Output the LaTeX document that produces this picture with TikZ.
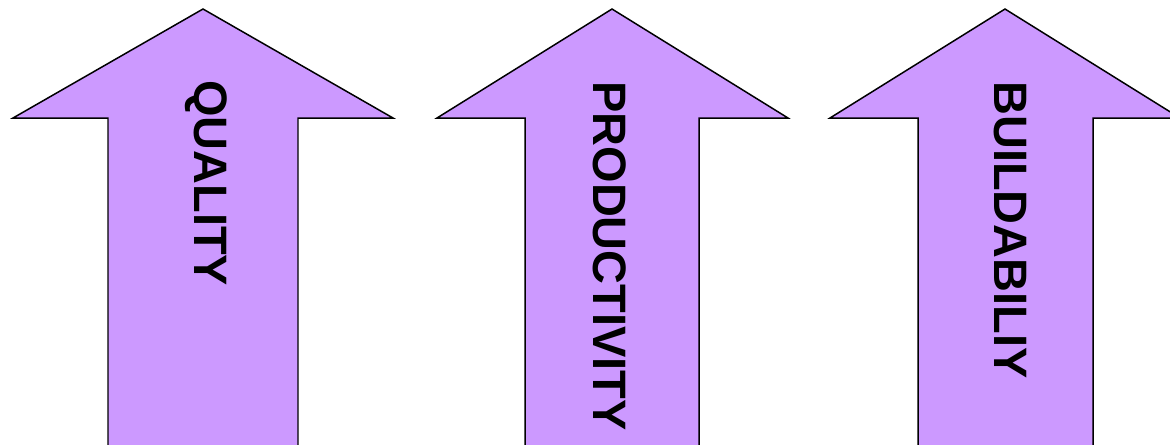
\documentclass[tikz,border=0pt]{standalone}
\usepackage{fontspec}
\setmainfont{Liberation Sans}
\usepackage{xcolor}
\definecolor{lavender}{HTML}{CC99FF}

% block arrow: tip x, head left, head right, shaft left, shaft right
\newcommand{\bigarrow}[5]{%
    \draw[arrowbody] (#1,9) -- (#3,118) -- (#5,118) -- (#5,470)
        -- (#4,470) -- (#4,118) -- (#2,118) -- cycle;}

\begin{document}
\begin{tikzpicture}[x=0.02cm, y=-0.02cm,
    arrowbody/.style={fill=lavender, draw=black, line width=0.85pt, line join=miter},
    arrowtext/.style={rotate=-90, anchor=west, inner sep=0pt,
        font=\fontsize{26.7}{30}\selectfont\bfseries}]
    \useasboundingbox (0,0) rectangle (1170,444);
    \clip (0,0) rectangle (1170,444);

    % Arrows
    \bigarrow{203}{13}{393}{108}{298}
    \bigarrow{612}{437}{788}{525}{699}
    \bigarrow{1005}{830}{1180}{918}{1093}

    % Labels
    \node[arrowtext] (quality) at (206,80) {QUALITY};
    \node[arrowtext] (productivity) at (610,81) {PRODUCTIVITY};
    \node[arrowtext] (buildability) at (1010,81) {BUILDABILIY};
\end{tikzpicture}
\end{document}
